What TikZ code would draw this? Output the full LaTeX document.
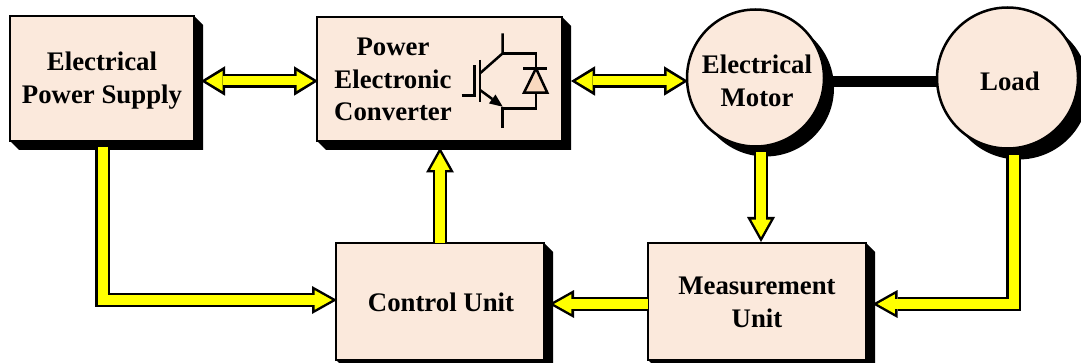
\documentclass[tikz,border=0pt]{standalone}
\usepackage{fontspec}
\setmainfont{Liberation Serif}
\usepackage{tikz}
\usetikzlibrary{arrows.meta}
\definecolor{boxfill}{HTML}{FBE9DC}
\definecolor{diodefill}{HTML}{F9D9BF}
\definecolor{shaftyellow}{HTML}{FFFF00}
\def\shadowsep{9}

\begin{document}
\begin{tikzpicture}[x=1pt,y=-1pt,outer sep=0pt]
	\tikzstyle{block}=[rectangle,draw=black,fill=boxfill,line width=2.5pt,inner sep=0pt]
	\tikzstyle{round block}=[circle,draw=black,fill=boxfill,line width=2.5pt,inner sep=0pt]
	\tikzstyle{annot}=[font=\fontsize{26.8}{32.5}\selectfont\bfseries,text=black,align=center,inner sep=0pt]
	\tikzstyle{power line}=[line width=14.5pt,draw=black,-{Triangle[length=25pt,width=28pt,line width=0pt]},
		postaction={draw=shaftyellow,line width=10pt,shorten >=5pt,-{Triangle[length=17.3pt,width=19.4pt,line width=0pt]}}]
	\tikzstyle{both power line}=[line width=14pt,draw=black,{Triangle[length=24pt,width=29.5pt,line width=0pt]}-{Triangle[length=24pt,width=29.5pt,line width=0pt]},
		postaction={draw=shaftyellow,line width=9pt,shorten >=4.9pt,shorten <=4.9pt,{Triangle[length=16.6pt,width=20pt,line width=0pt]}-{Triangle[length=16.6pt,width=20pt,line width=0pt]}}]
	\tikzstyle{igbt}=[line width=2.5pt,draw=black]

	\useasboundingbox (0,0) rectangle (1081,363);
	\clip (0,0) rectangle (1081,363);

	% Draw the block shadows first, at the block positions
	\foreach \name/\x/\y/\w/\h in {supply/102/78.5/184/125,converter/439.5/79/245/124,control/440/301.5/208/117,measure/757/301.5/218/117}
	\fill[black] (\x+0.5*\w,\y-0.5*\h) -- ++(\shadowsep,\shadowsep) -- (\x+0.5*\w+\shadowsep,\y+0.5*\h+\shadowsep)
		-- (\x-0.5*\w+\shadowsep,\y+0.5*\h+\shadowsep) -- (\x-0.5*\w,\y+0.5*\h) -- cycle;
	\draw[black,line width=137pt,line cap=round] (755.5,78) -- ++(10,10);
	\draw[black,line width=141pt,line cap=round] (1007.5,78) -- ++(11,11);

	% Draw the blocks
	\node[block,minimum width=184pt,minimum height=125pt] (supply) at (102,78.5) {};
	\node[block,minimum width=245pt,minimum height=124pt] (converter) at (439.5,79) {};
	\node[block,minimum width=208pt,minimum height=117pt] (control) at (440,301.5) {};
	\node[block,minimum width=218pt,minimum height=117pt] (measure) at (757,301.5) {};

	% Draw the round blocks
	\node[round block,minimum size=137pt] (motor) at (755.5,78) {};
	\node[round block,minimum size=141pt] (load) at (1007.5,78) {};

	% Connect motor and load
	\draw[black,line width=11pt] ([yshift=-3.5pt]motor.east) -- ([yshift=-3.5pt]load.west);

	% Connect the power path
	\path[both power line] ([xshift=7pt,yshift=-2.5pt]supply.east) -- ([xshift=1pt,yshift=-2pt]converter.west);
	\path[both power line] ([xshift=9pt,yshift=-2pt]converter.east) -- ([xshift=1pt,yshift=-3pt]motor.west);

	% Connect the signal path
	\path[power line] ([xshift=0.5pt,yshift=-6pt]supply.south) |- ([xshift=1pt,yshift=1.5pt]control.west);
	\path[power line] (control.north) -- ([xshift=0.5pt,yshift=-6.5pt]converter.south);
	\path[power line] ([xshift=5.5pt,yshift=-6pt]motor.south) -- ([xshift=4pt,yshift=1pt]measure.north);
	\path[power line] ([xshift=6pt,yshift=-7pt]load.south) |- ([xshift=6.5pt,yshift=-2.5pt]measure.east);
	\path[power line] ([yshift=-2.5pt]measure.west) -- ([xshift=5pt,yshift=-2.5pt]control.east);

	% Draw the igbt and diode
	\draw[igbt] (502.7,33.3) -- (502.7,53.3) -- (480,73.3);
	\draw[igbt] (480,60) -- (480,101.7);
	\draw[igbt] (461.7,95.7) -- (474.3,95.7) -- (474.3,65);
	\draw[igbt,-{Triangle[length=13pt,width=11pt,line width=0pt]}] (480,90) -- (502.7,106.7);
	\draw[igbt] (502.7,106.7) -- (502.7,127.7);
	\draw[igbt] (502.7,53.3) -- (536,53.3) -- (536,108.3) -- (502.7,108.3);
	\draw[igbt,fill=diodefill] (536,68.3) -- (524,92.7) -- (547.3,92.7) -- cycle;
	\draw[igbt] (523.3,68.3) -- (547.3,68.3);

	% Annotate the blocks
	\node[annot] (supply text) at (102,80.5) {Electrical\\Power Supply};
	\node[annot] (converter text) at (393,79.5) {Power\\Electronic\\Converter};
	\node[annot] (control text) at (441,302) {Control Unit};
	\node[annot] (measure text) at (757,302.5) {Measurement\\Unit};
	\node[annot] (motor text) at (757,81) {Electrical\\Motor};
	\node[annot] (load text) at (1010,81) {Load};
\end{tikzpicture}
\end{document}
